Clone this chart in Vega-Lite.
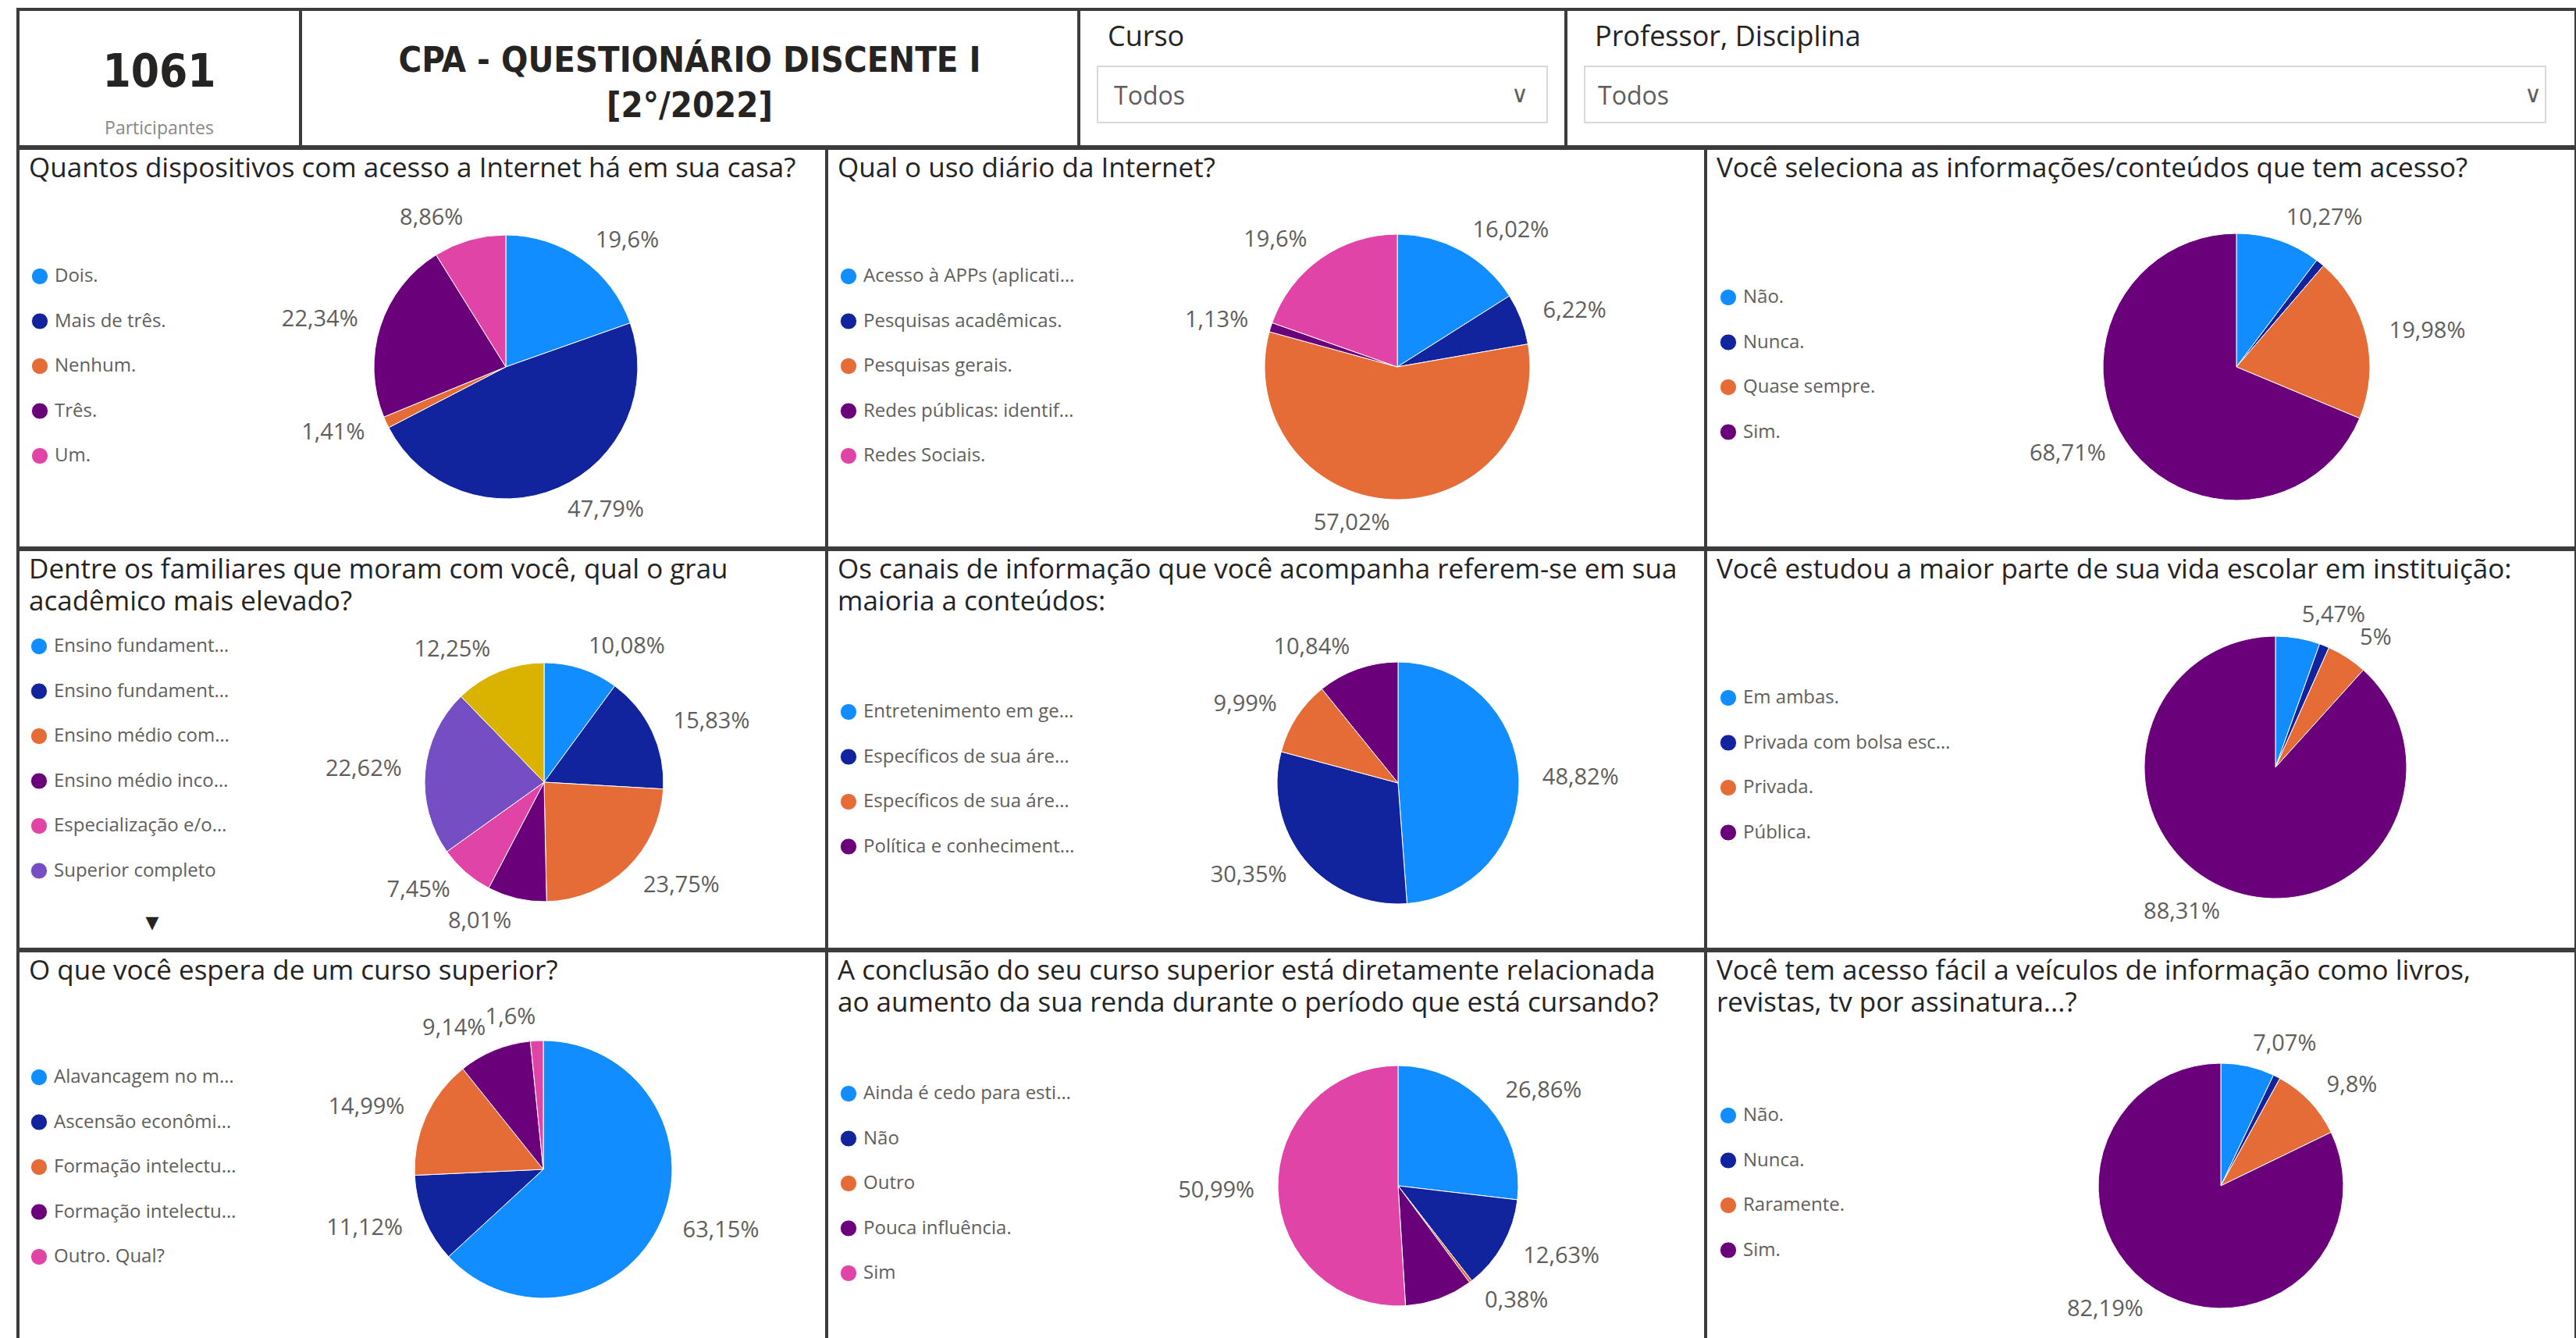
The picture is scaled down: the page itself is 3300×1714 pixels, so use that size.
{
"$schema": "https://vega.github.io/schema/vega-lite/v6.json",
"padding": {"left": 21, "top": 10, "right": 0, "bottom": 0},
"background": "white",
"spacing": -4,
"config": {
  "view": {"stroke": null},
  "font": "Open Sans",
  "range": {"category": ["#118DFF", "#12239E", "#E66C37", "#6B007B", "#E044A7", "#744EC2", "#D9B300"]},
  "locale": {"number": {"decimal": ",", "thousands": ".", "grouping": [3], "currency": ["R$", ""]}},
  "title": {"anchor": "start", "frame": "group", "fontSize": 35, "fontWeight": "normal", "color": "#252423", "font": "Open Sans", "dx": 14, "lineHeight": 41},
  "legend": {"orient": "none", "symbolType": "circle", "symbolSize": 450, "symbolStrokeWidth": 0, "labelFontSize": 24, "labelColor": "#605E5C", "labelFont": "Open Sans", "rowPadding": 31.5, "labelOffset": 7, "labelLimit": 275, "padding": 0, "offset": 0},
  "arc": {"stroke": "white", "strokeWidth": 1},
  "text": {"font": "Open Sans"}
},
"resolve": {"scale": {"color": "independent", "theta": "independent"}, "legend": {"color": "independent"}},
"vconcat": [
  {
    "spacing": 0, "bounds": "flush",
    "resolve": {"scale": {"color": "independent", "theta": "independent"}, "legend": {"color": "independent"}},
    "hconcat": [
      {
        "width": 362, "height": 176,
        "data": {"values": [{"n": 1061, "rotulo": "Participantes"}]},
        "layer": [
          {"mark": {"type": "rect", "x": 0, "y": 0, "x2": "width", "y2": "height", "fillOpacity": 0, "stroke": "#3c3c3c", "strokeWidth": 4}, "encoding": {}},
          {"mark": {"type": "text", "font": "DejaVu Sans Condensed", "fontWeight": "bold", "fontSize": 58, "color": "#252423", "baseline": "middle", "dy": -6}, "encoding": {"text": {"field": "n", "type": "quantitative", "format": "d"}}},
          {"mark": {"type": "text", "fontSize": 23, "color": "#8a8886", "baseline": "middle", "dy": 65}, "encoding": {"text": {"field": "rotulo", "type": "nominal"}}}
        ]
      },
      {
        "width": 997, "height": 176,
        "data": {"values": [{"l1": "CPA - QUESTIONÁRIO DISCENTE I", "l2": "[2°/2022]"}]},
        "layer": [
          {"mark": {"type": "rect", "x": 0, "y": 0, "x2": "width", "y2": "height", "fillOpacity": 0, "stroke": "#3c3c3c", "strokeWidth": 4}, "encoding": {}},
          {"mark": {"type": "text", "font": "DejaVu Sans Condensed", "fontWeight": "bold", "fontSize": 45, "color": "#252423", "baseline": "middle", "dy": -22}, "encoding": {"text": {"field": "l1", "type": "nominal"}}},
          {"mark": {"type": "text", "font": "DejaVu Sans Condensed", "fontWeight": "bold", "fontSize": 45, "color": "#252423", "baseline": "middle", "dy": 36}, "encoding": {"text": {"field": "l2", "type": "nominal"}}}
        ]
      },
      {
        "width": 624, "height": 176,
        "data": {"values": [{"rotulo": "Curso", "valor": "Todos", "seta": "∨"}]},
        "layer": [
          {"mark": {"type": "rect", "x": 0, "y": 0, "x2": "width", "y2": "height", "fillOpacity": 0, "stroke": "#3c3c3c", "strokeWidth": 4}, "encoding": {}},
          {"mark": {"type": "rect", "x": 24, "x2": 600, "y": 73, "y2": 145, "fill": "white", "stroke": "#d9d9d9", "strokeWidth": 2}, "encoding": {}},
          {"mark": {"type": "text", "x": 37, "y": 36, "align": "left", "baseline": "middle", "fontSize": 36, "color": "#252423"}, "encoding": {"text": {"field": "rotulo", "type": "nominal"}}},
          {"mark": {"type": "text", "x": 45, "y": 112, "align": "left", "baseline": "middle", "fontSize": 32, "color": "#605E5C"}, "encoding": {"text": {"field": "valor", "type": "nominal"}}},
          {"mark": {"type": "text", "x": 565, "y": 110, "align": "center", "baseline": "middle", "fontSize": 30, "font": "DejaVu Sans", "color": "#605E5C"}, "encoding": {"text": {"field": "seta", "type": "nominal"}}}
        ]
      },
      {
        "width": 1294, "height": 176,
        "data": {"values": [{"rotulo": "Professor, Disciplina", "valor": "Todos", "seta": "∨"}]},
        "layer": [
          {"mark": {"type": "rect", "x": 0, "y": 0, "x2": "width", "y2": "height", "fillOpacity": 0, "stroke": "#3c3c3c", "strokeWidth": 4}, "encoding": {}},
          {"mark": {"type": "rect", "x": 24, "x2": 1255, "y": 73, "y2": 145, "fill": "white", "stroke": "#d9d9d9", "strokeWidth": 2}, "encoding": {}},
          {"mark": {"type": "text", "x": 37, "y": 36, "align": "left", "baseline": "middle", "fontSize": 36, "color": "#252423"}, "encoding": {"text": {"field": "rotulo", "type": "nominal"}}},
          {"mark": {"type": "text", "x": 41, "y": 112, "align": "left", "baseline": "middle", "fontSize": 32, "color": "#605E5C"}, "encoding": {"text": {"field": "valor", "type": "nominal"}}},
          {"mark": {"type": "text", "x": 1239, "y": 110, "align": "center", "baseline": "middle", "fontSize": 30, "font": "DejaVu Sans", "color": "#605E5C"}, "encoding": {"text": {"field": "seta", "type": "nominal"}}}
        ]
      }
    ]
  },
  {
    "spacing": 0, "bounds": "flush",
    "resolve": {"scale": {"color": "independent", "theta": "independent"}, "legend": {"color": "independent"}},
    "hconcat": [
      {
        "width": 1036, "height": 512,
        "title": {"text": "Quantos dispositivos com acesso a Internet há em sua casa?", "offset": -46},
        "data": {"values": [
          {"cat": "Dois.", "p": 0.196, "n": 1},
          {"cat": "Mais de três.", "p": 0.4779, "n": 2},
          {"cat": "Nenhum.", "p": 0.0141, "n": 3},
          {"cat": "Três.", "p": 0.2234, "n": 4},
          {"cat": "Um.", "p": 0.0886, "n": 5}
        ]},
        "layer": [
          {"mark": {"type": "rect", "x": 0, "y": 0, "x2": "width", "y2": "height", "fillOpacity": 0, "stroke": "#3c3c3c", "strokeWidth": 4}, "encoding": {}},
          {"mark": {"type": "arc", "x": 625, "y": 280, "outerRadius": 169},
           "encoding": {"theta": {"field": "p", "type": "quantitative", "stack": true}, "order": {"field": "n", "type": "quantitative"},
             "color": {"field": "cat", "type": "nominal", "sort": {"field": "n", "op": "min"}, "legend": {"title": null, "legendX": 16, "legendY": 152, "labelLimit": 236}}}},
          {"mark": {"type": "text", "x": 625, "y": 280, "radius": 199, "fontSize": 29, "color": "#605E5C", "align": "left", "baseline": "middle"},
           "encoding": {"theta": {"field": "p", "type": "quantitative", "stack": true}, "order": {"field": "n", "type": "quantitative"}, "detail": {"field": "cat", "type": "nominal"},
             "text": {"condition": {"test": "indexof(['Dois.','Mais de três.'], datum.cat) >= 0", "field": "p", "type": "quantitative", "format": ".2~%"}, "value": ""}}},
          {"mark": {"type": "text", "x": 625, "y": 280, "radius": 199, "fontSize": 29, "color": "#605E5C", "align": "right", "baseline": "middle"},
           "encoding": {"theta": {"field": "p", "type": "quantitative", "stack": true}, "order": {"field": "n", "type": "quantitative"}, "detail": {"field": "cat", "type": "nominal"},
             "text": {"condition": {"test": "indexof(['Nenhum.','Três.','Um.'], datum.cat) >= 0", "field": "p", "type": "quantitative", "format": ".2~%"}, "value": ""}}}
        ]
      },
      {
        "width": 1126, "height": 512,
        "title": {"text": "Qual o uso diário da Internet?", "offset": -46},
        "data": {"values": [
          {"cat": "Acesso à APPs (aplicativos).", "p": 0.1602, "n": 1},
          {"cat": "Pesquisas acadêmicas.", "p": 0.0622, "n": 2},
          {"cat": "Pesquisas gerais.", "p": 0.5702, "n": 3},
          {"cat": "Redes públicas: identificação.", "p": 0.0113, "n": 4},
          {"cat": "Redes Sociais.", "p": 0.196, "n": 5}
        ]},
        "layer": [
          {"mark": {"type": "rect", "x": 0, "y": 0, "x2": "width", "y2": "height", "fillOpacity": 0, "stroke": "#3c3c3c", "strokeWidth": 4}, "encoding": {}},
          {"mark": {"type": "arc", "x": 731, "y": 280, "outerRadius": 170},
           "encoding": {"theta": {"field": "p", "type": "quantitative", "stack": true}, "order": {"field": "n", "type": "quantitative"},
             "color": {"field": "cat", "type": "nominal", "sort": {"field": "n", "op": "min"}, "legend": {"title": null, "legendX": 16, "legendY": 152}}}},
          {"mark": {"type": "text", "x": 731, "y": 280, "radius": 200, "fontSize": 29, "color": "#605E5C", "align": "left", "baseline": "middle"},
           "encoding": {"theta": {"field": "p", "type": "quantitative", "stack": true}, "order": {"field": "n", "type": "quantitative"}, "detail": {"field": "cat", "type": "nominal"},
             "text": {"condition": {"test": "indexof(['Acesso à APPs (aplicativos).','Pesquisas acadêmicas.'], datum.cat) >= 0", "field": "p", "type": "quantitative", "format": ".2~%"}, "value": ""}}},
          {"mark": {"type": "text", "x": 731, "y": 280, "radius": 200, "fontSize": 29, "color": "#605E5C", "align": "right", "baseline": "middle"},
           "encoding": {"theta": {"field": "p", "type": "quantitative", "stack": true}, "order": {"field": "n", "type": "quantitative"}, "detail": {"field": "cat", "type": "nominal"},
             "text": {"condition": {"test": "indexof(['Pesquisas gerais.','Redes públicas: identificação.','Redes Sociais.'], datum.cat) >= 0", "field": "p", "type": "quantitative", "format": ".2~%"}, "value": ""}}}
        ]
      },
      {
        "width": 1115, "height": 512,
        "title": {"text": "Você seleciona as informações/conteúdos que tem acesso?", "offset": -46},
        "data": {"values": [
          {"cat": "Não.", "p": 0.1027, "n": 1},
          {"cat": "Nunca.", "p": 0.0104, "n": 2},
          {"cat": "Quase sempre.", "p": 0.1998, "n": 3},
          {"cat": "Sim.", "p": 0.6871, "n": 4}
        ]},
        "layer": [
          {"mark": {"type": "rect", "x": 0, "y": 0, "x2": "width", "y2": "height", "fillOpacity": 0, "stroke": "#3c3c3c", "strokeWidth": 4}, "encoding": {}},
          {"mark": {"type": "arc", "x": 680, "y": 280, "outerRadius": 171},
           "encoding": {"theta": {"field": "p", "type": "quantitative", "stack": true}, "order": {"field": "n", "type": "quantitative"},
             "color": {"field": "cat", "type": "nominal", "sort": {"field": "n", "op": "min"}, "legend": {"title": null, "legendX": 17, "legendY": 179}}}},
          {"mark": {"type": "text", "x": 680, "y": 280, "radius": 201, "fontSize": 29, "color": "#605E5C", "align": "left", "baseline": "middle"},
           "encoding": {"theta": {"field": "p", "type": "quantitative", "stack": true}, "order": {"field": "n", "type": "quantitative"}, "detail": {"field": "cat", "type": "nominal"},
             "text": {"condition": {"test": "indexof(['Não.','Quase sempre.'], datum.cat) >= 0", "field": "p", "type": "quantitative", "format": ".2~%"}, "value": ""}}},
          {"mark": {"type": "text", "x": 680, "y": 280, "radius": 201, "fontSize": 29, "color": "#605E5C", "align": "right", "baseline": "middle"},
           "encoding": {"theta": {"field": "p", "type": "quantitative", "stack": true}, "order": {"field": "n", "type": "quantitative"}, "detail": {"field": "cat", "type": "nominal"},
             "text": {"condition": {"test": "indexof(['Sim.'], datum.cat) >= 0", "field": "p", "type": "quantitative", "format": ".2~%"}, "value": ""}}}
        ]
      }
    ]
  },
  {
    "spacing": 0, "bounds": "flush",
    "resolve": {"scale": {"color": "independent", "theta": "independent"}, "legend": {"color": "independent"}},
    "hconcat": [
      {
        "width": 1036, "height": 512,
        "title": {"text": ["Dentre os familiares que moram com você, qual o grau", "acadêmico mais elevado?"], "offset": -87},
        "data": {"values": [
          {"cat": "Ensino fundamental completo", "p": 0.1008, "n": 1},
          {"cat": "Ensino fundamental incompleto", "p": 0.1583, "n": 2},
          {"cat": "Ensino médio completo", "p": 0.2375, "n": 3},
          {"cat": "Ensino médio incompleto", "p": 0.0801, "n": 4},
          {"cat": "Especialização e/ou pós-graduação", "p": 0.0745, "n": 5},
          {"cat": "Superior completo", "p": 0.2262, "n": 6},
          {"cat": "Superior incompleto", "p": 0.1225, "n": 7}
        ]},
        "layer": [
          {"mark": {"type": "rect", "x": 0, "y": 0, "x2": "width", "y2": "height", "fillOpacity": 0, "stroke": "#3c3c3c", "strokeWidth": 4}, "encoding": {}},
          {"mark": {"type": "arc", "x": 674, "y": 298, "outerRadius": 153},
           "encoding": {"theta": {"field": "p", "type": "quantitative", "stack": true}, "order": {"field": "n", "type": "quantitative"},
             "color": {"field": "cat", "type": "nominal", "sort": {"field": "n", "op": "min"}, "legend": {"title": null, "legendX": 15, "legendY": 112, "labelLimit": 236, "values": ["Ensino fundamental completo", "Ensino fundamental incompleto", "Ensino médio completo", "Ensino médio incompleto", "Especialização e/ou pós-graduação", "Superior completo"]}}}},
          {"mark": {"type": "text", "x": 674, "y": 298, "radius": 183, "fontSize": 29, "color": "#605E5C", "align": "left", "baseline": "middle"},
           "encoding": {"theta": {"field": "p", "type": "quantitative", "stack": true}, "order": {"field": "n", "type": "quantitative"}, "detail": {"field": "cat", "type": "nominal"},
             "text": {"condition": {"test": "indexof(['Ensino fundamental completo','Ensino fundamental incompleto','Ensino médio completo'], datum.cat) >= 0", "field": "p", "type": "quantitative", "format": ".2~%"}, "value": ""}}},
          {"mark": {"type": "text", "x": 674, "y": 298, "radius": 183, "fontSize": 29, "color": "#605E5C", "align": "right", "baseline": "middle"},
           "encoding": {"theta": {"field": "p", "type": "quantitative", "stack": true}, "order": {"field": "n", "type": "quantitative"}, "detail": {"field": "cat", "type": "nominal"},
             "text": {"condition": {"test": "indexof(['Ensino médio incompleto','Especialização e/ou pós-graduação','Superior completo','Superior incompleto'], datum.cat) >= 0", "field": "p", "type": "quantitative", "format": ".2~%"}, "value": ""}}},
          {"data": {"values": [{"seta": "▼"}]},
           "mark": {"type": "text", "x": 172, "y": 478, "fontSize": 22, "font": "DejaVu Sans", "color": "#252423", "baseline": "middle"},
           "encoding": {"text": {"field": "seta", "type": "nominal"}}}
        ]
      },
      {
        "width": 1126, "height": 512,
        "title": {"text": ["Os canais de informação que você acompanha referem-se em sua", "maioria a conteúdos:"], "offset": -87},
        "data": {"values": [
          {"cat": "Entretenimento em geral.", "p": 0.4882, "n": 1},
          {"cat": "Específicos de sua área de atuação.", "p": 0.3035, "n": 2},
          {"cat": "Específicos de sua área de formação.", "p": 0.0999, "n": 3},
          {"cat": "Política e conhecimentos gerais.", "p": 0.1084, "n": 4}
        ]},
        "layer": [
          {"mark": {"type": "rect", "x": 0, "y": 0, "x2": "width", "y2": "height", "fillOpacity": 0, "stroke": "#3c3c3c", "strokeWidth": 4}, "encoding": {}},
          {"mark": {"type": "arc", "x": 732, "y": 299, "outerRadius": 155},
           "encoding": {"theta": {"field": "p", "type": "quantitative", "stack": true}, "order": {"field": "n", "type": "quantitative"},
             "color": {"field": "cat", "type": "nominal", "sort": {"field": "n", "op": "min"}, "legend": {"title": null, "legendX": 16, "legendY": 196}}}},
          {"mark": {"type": "text", "x": 732, "y": 299, "radius": 185, "fontSize": 29, "color": "#605E5C", "align": "left", "baseline": "middle"},
           "encoding": {"theta": {"field": "p", "type": "quantitative", "stack": true}, "order": {"field": "n", "type": "quantitative"}, "detail": {"field": "cat", "type": "nominal"},
             "text": {"condition": {"test": "indexof(['Entretenimento em geral.'], datum.cat) >= 0", "field": "p", "type": "quantitative", "format": ".2~%"}, "value": ""}}},
          {"mark": {"type": "text", "x": 732, "y": 299, "radius": 185, "fontSize": 29, "color": "#605E5C", "align": "right", "baseline": "middle"},
           "encoding": {"theta": {"field": "p", "type": "quantitative", "stack": true}, "order": {"field": "n", "type": "quantitative"}, "detail": {"field": "cat", "type": "nominal"},
             "text": {"condition": {"test": "indexof(['Específicos de sua área de atuação.','Específicos de sua área de formação.','Política e conhecimentos gerais.'], datum.cat) >= 0", "field": "p", "type": "quantitative", "format": ".2~%"}, "value": ""}}}
        ]
      },
      {
        "width": 1115, "height": 512,
        "title": {"text": "Você estudou a maior parte de sua vida escolar em instituição:", "offset": -46},
        "data": {"values": [
          {"cat": "Em ambas.", "p": 0.0547, "n": 1},
          {"cat": "Privada com bolsa escolar.", "p": 0.0122, "n": 2},
          {"cat": "Privada.", "p": 0.05, "n": 3},
          {"cat": "Pública.", "p": 0.8831, "n": 4}
        ]},
        "layer": [
          {"mark": {"type": "rect", "x": 0, "y": 0, "x2": "width", "y2": "height", "fillOpacity": 0, "stroke": "#3c3c3c", "strokeWidth": 4}, "encoding": {}},
          {"mark": {"type": "arc", "x": 730, "y": 279, "outerRadius": 168},
           "encoding": {"theta": {"field": "p", "type": "quantitative", "stack": true}, "order": {"field": "n", "type": "quantitative"},
             "color": {"field": "cat", "type": "nominal", "sort": {"field": "n", "op": "min"}, "legend": {"title": null, "legendX": 17, "legendY": 178}}}},
          {"mark": {"type": "text", "x": 730, "y": 279, "radius": 198, "fontSize": 29, "color": "#605E5C", "align": "left", "baseline": "middle"},
           "encoding": {"theta": {"field": "p", "type": "quantitative", "stack": true}, "order": {"field": "n", "type": "quantitative"}, "detail": {"field": "cat", "type": "nominal"},
             "text": {"condition": {"test": "indexof(['Em ambas.','Privada.'], datum.cat) >= 0", "field": "p", "type": "quantitative", "format": ".2~%"}, "value": ""}}},
          {"mark": {"type": "text", "x": 730, "y": 279, "radius": 198, "fontSize": 29, "color": "#605E5C", "align": "right", "baseline": "middle"},
           "encoding": {"theta": {"field": "p", "type": "quantitative", "stack": true}, "order": {"field": "n", "type": "quantitative"}, "detail": {"field": "cat", "type": "nominal"},
             "text": {"condition": {"test": "indexof(['Pública.'], datum.cat) >= 0", "field": "p", "type": "quantitative", "format": ".2~%"}, "value": ""}}}
        ]
      }
    ]
  },
  {
    "spacing": 0, "bounds": "flush",
    "resolve": {"scale": {"color": "independent", "theta": "independent"}, "legend": {"color": "independent"}},
    "hconcat": [
      {
        "width": 1036, "height": 502,
        "title": {"text": "O que você espera de um curso superior?", "offset": -46},
        "data": {"values": [
          {"cat": "Alavancagem no mercado de trabalho.", "p": 0.6315, "n": 1},
          {"cat": "Ascensão econômica.", "p": 0.1112, "n": 2},
          {"cat": "Formação intelectual e humana.", "p": 0.1499, "n": 3},
          {"cat": "Formação intelectual e profissional.", "p": 0.0914, "n": 4},
          {"cat": "Outro. Qual?", "p": 0.016, "n": 5}
        ]},
        "layer": [
          {"mark": {"type": "rect", "x": 0, "y": 0, "x2": "width", "y2": "height", "fillOpacity": 0, "stroke": "#3c3c3c", "strokeWidth": 4}, "encoding": {}},
          {"mark": {"type": "arc", "x": 673, "y": 280, "outerRadius": 165},
           "encoding": {"theta": {"field": "p", "type": "quantitative", "stack": true}, "order": {"field": "n", "type": "quantitative"},
             "color": {"field": "cat", "type": "nominal", "sort": {"field": "n", "op": "min"}, "legend": {"title": null, "legendX": 15, "legendY": 150, "labelLimit": 236}}}},
          {"mark": {"type": "text", "x": 673, "y": 280, "radius": 195, "fontSize": 29, "color": "#605E5C", "align": "left", "baseline": "middle"},
           "encoding": {"theta": {"field": "p", "type": "quantitative", "stack": true}, "order": {"field": "n", "type": "quantitative"}, "detail": {"field": "cat", "type": "nominal"},
             "text": {"condition": {"test": "indexof(['Alavancagem no mercado de trabalho.'], datum.cat) >= 0", "field": "p", "type": "quantitative", "format": ".2~%"}, "value": ""}}},
          {"mark": {"type": "text", "x": 673, "y": 280, "radius": 195, "fontSize": 29, "color": "#605E5C", "align": "right", "baseline": "middle"},
           "encoding": {"theta": {"field": "p", "type": "quantitative", "stack": true}, "order": {"field": "n", "type": "quantitative"}, "detail": {"field": "cat", "type": "nominal"},
             "text": {"condition": {"test": "indexof(['Ascensão econômica.','Formação intelectual e humana.','Formação intelectual e profissional.','Outro. Qual?'], datum.cat) >= 0", "field": "p", "type": "quantitative", "format": ".2~%"}, "value": ""}}}
        ]
      },
      {
        "width": 1126, "height": 502,
        "title": {"text": ["A conclusão do seu curso superior está diretamente relacionada", "ao aumento da sua renda durante o período que está cursando?"], "offset": -87},
        "data": {"values": [
          {"cat": "Ainda é cedo para estimar.", "p": 0.2686, "n": 1},
          {"cat": "Não", "p": 0.1263, "n": 2},
          {"cat": "Outro", "p": 0.0038, "n": 3},
          {"cat": "Pouca influência.", "p": 0.0914, "n": 4},
          {"cat": "Sim", "p": 0.5099, "n": 5}
        ]},
        "layer": [
          {"mark": {"type": "rect", "x": 0, "y": 0, "x2": "width", "y2": "height", "fillOpacity": 0, "stroke": "#3c3c3c", "strokeWidth": 4}, "encoding": {}},
          {"mark": {"type": "arc", "x": 732, "y": 301, "outerRadius": 154},
           "encoding": {"theta": {"field": "p", "type": "quantitative", "stack": true}, "order": {"field": "n", "type": "quantitative"},
             "color": {"field": "cat", "type": "nominal", "sort": {"field": "n", "op": "min"}, "legend": {"title": null, "legendX": 16, "legendY": 171}}}},
          {"mark": {"type": "text", "x": 732, "y": 301, "radius": 184, "fontSize": 29, "color": "#605E5C", "align": "left", "baseline": "middle"},
           "encoding": {"theta": {"field": "p", "type": "quantitative", "stack": true}, "order": {"field": "n", "type": "quantitative"}, "detail": {"field": "cat", "type": "nominal"},
             "text": {"condition": {"test": "indexof(['Ainda é cedo para estimar.','Não','Outro'], datum.cat) >= 0", "field": "p", "type": "quantitative", "format": ".2~%"}, "value": ""}}},
          {"mark": {"type": "text", "x": 732, "y": 301, "radius": 184, "fontSize": 29, "color": "#605E5C", "align": "right", "baseline": "middle"},
           "encoding": {"theta": {"field": "p", "type": "quantitative", "stack": true}, "order": {"field": "n", "type": "quantitative"}, "detail": {"field": "cat", "type": "nominal"},
             "text": {"condition": {"test": "indexof(['Sim'], datum.cat) >= 0", "field": "p", "type": "quantitative", "format": ".2~%"}, "value": ""}}}
        ]
      },
      {
        "width": 1115, "height": 502,
        "title": {"text": ["Você tem acesso fácil a veículos de informação como livros,", "revistas, tv por assinatura...?"], "offset": -87},
        "data": {"values": [
          {"cat": "Não.", "p": 0.0707, "n": 1},
          {"cat": "Nunca.", "p": 0.0094, "n": 2},
          {"cat": "Raramente.", "p": 0.098, "n": 3},
          {"cat": "Sim.", "p": 0.8219, "n": 4}
        ]},
        "layer": [
          {"mark": {"type": "rect", "x": 0, "y": 0, "x2": "width", "y2": "height", "fillOpacity": 0, "stroke": "#3c3c3c", "strokeWidth": 4}, "encoding": {}},
          {"mark": {"type": "arc", "x": 660, "y": 301, "outerRadius": 157},
           "encoding": {"theta": {"field": "p", "type": "quantitative", "stack": true}, "order": {"field": "n", "type": "quantitative"},
             "color": {"field": "cat", "type": "nominal", "sort": {"field": "n", "op": "min"}, "legend": {"title": null, "legendX": 17, "legendY": 199}}}},
          {"mark": {"type": "text", "x": 660, "y": 301, "radius": 187, "fontSize": 29, "color": "#605E5C", "align": "left", "baseline": "middle"},
           "encoding": {"theta": {"field": "p", "type": "quantitative", "stack": true}, "order": {"field": "n", "type": "quantitative"}, "detail": {"field": "cat", "type": "nominal"},
             "text": {"condition": {"test": "indexof(['Não.','Raramente.'], datum.cat) >= 0", "field": "p", "type": "quantitative", "format": ".2~%"}, "value": ""}}},
          {"mark": {"type": "text", "x": 660, "y": 301, "radius": 187, "fontSize": 29, "color": "#605E5C", "align": "right", "baseline": "middle"},
           "encoding": {"theta": {"field": "p", "type": "quantitative", "stack": true}, "order": {"field": "n", "type": "quantitative"}, "detail": {"field": "cat", "type": "nominal"},
             "text": {"condition": {"test": "indexof(['Sim.'], datum.cat) >= 0", "field": "p", "type": "quantitative", "format": ".2~%"}, "value": ""}}}
        ]
      }
    ]
  }
]
}
